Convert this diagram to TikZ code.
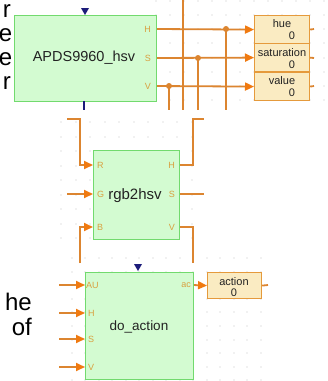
\documentclass[tikz,border=0pt]{standalone}
\usepackage{fontspec}
\setmainfont{Liberation Sans}
\usetikzlibrary{arrows.meta}
\definecolor{wire}{HTML}{DC8530}
\definecolor{arrowc}{HTML}{F07A10}
\definecolor{boxfill}{HTML}{D3FBD1}
\definecolor{boxline}{HTML}{72DA6E}
\definecolor{portc}{HTML}{D9A040}
\definecolor{dispfill}{HTML}{FAEBC2}
\definecolor{displine}{HTML}{E59A3C}
\definecolor{navyc}{HTML}{1C1C7A}
\definecolor{griddot}{HTML}{C4C4C4}
\definecolor{txt}{HTML}{222222}
\begin{document}
\begin{tikzpicture}[x=1pt,y=-1pt,
  wire/.style={draw=wire,line width=1.8pt},
  arr/.style={-{Triangle[length=9pt,width=8pt,fill=arrowc,color=arrowc]}},
  block/.style={draw=boxline,fill=boxfill,line width=1.2pt,inner sep=0pt,anchor=north west,text=txt},
  disp/.style={draw=displine,fill=dispfill,line width=1.2pt,inner sep=0pt,anchor=north west,minimum width=55pt,minimum height=28pt},
  dtxt/.style={font=\fontsize{11}{11}\selectfont,inner sep=0pt,text=txt},
  port/.style={text=portc,font=\fontsize{9}{9}\selectfont,inner sep=0pt},
  junc/.style={circle,fill=wire,inner sep=0pt,minimum size=6pt},
  big/.style={font=\fontsize{24}{24}\selectfont,inner sep=0pt,anchor=base east},
  gdot/.style={fill=griddot}
]
\useasboundingbox[fill=white] (0,0) rectangle (328,381);
% grid dots
\foreach \gx in {156,170,184,198,212,226,240,254,268,282,296,310,324}
  \foreach \gy in {1,15,29,43,58,72,86,100}
    \fill[gdot] (\gx,\gy) circle (0.6pt);
\foreach \gx in {61,76,90,105,119,134,148,163,177,192}
  \foreach \gy in {122,137,151,166,180,195,209,224,238}
    \fill[gdot] (\gx,\gy) circle (0.6pt);
\foreach \gx in {72,85,99,112,126,139,153,166,180,193,207,220,234,247,261}
  \foreach \gy in {258,272,285,299,312,326,340,353,367,380}
    \fill[gdot] (\gx,\gy) circle (0.6pt);

% slide text fragments
\node[big] (t1) at (11,17) {r};
\node[big] (t2) at (12.5,41) {e};
\node[big] (t3) at (12.5,65) {e};
\node[big] (t4) at (11,89) {r};
\node[big] (t5) at (32,310) {he};
\node[big] (t6) at (32,335) {of};

% ---------- top block ----------
\coordinate (aH) at (156,29);
\coordinate (aS) at (156,58);
\coordinate (aV) at (156,86);
\node[disp] (hue) at (254,15) {};
\node[disp] (sat) at (254,43) {};
\node[disp] (val) at (254,72) {};
\node[dtxt] (hueT) at (282,24) {hue};
\node[dtxt] (hue0) at (292,36) {0};
\node[dtxt] (satT) at (282,53) {saturation};
\node[dtxt] (sat0) at (292,65) {0};
\node[dtxt] (valT) at (282,81) {value};
\node[dtxt] (val0) at (292,93) {0};
\coordinate (hueO) at (314,29);
\coordinate (satO) at (314,58);
\coordinate (valO) at (314,86);
\draw[wire] (hue.east) -- (hueO);
\draw[wire] (sat.east) -- (satO);
\draw[wire] (val.east) -- (valO);

\coordinate (jH) at (226,29);
\coordinate (jS) at (198,58);
\coordinate (jV) at (169,86);
\coordinate (jHd) at (226,110);
\coordinate (jSd) at (198,110);
\coordinate (jVd) at (169,110);
\coordinate (xT) at (183,0);
\coordinate (xB) at (183,110);
\draw[wire] (xT) -- (xB);
\draw[wire] (jH) -- (jHd);
\draw[wire] (jS) -- (jSd);
\draw[wire] (jV) -- (jVd);
\draw[wire,arr] (aH) -- (hue.west);
\draw[wire,arr] (aS) -- (sat.west);
\draw[wire,arr] (aV) -- (val.west);
\node[junc] (dH) at (jH) {};
\node[junc] (dS) at (jS) {};
\node[junc] (dV) at (jV) {};

\node[block,minimum width=142pt,minimum height=86pt] (apds) at (14,15) {};
\node[text=txt,font=\fontsize{14.5}{14.5}\selectfont,inner sep=0pt] (apdsT) at (84,58) {APDS9960\_hsv};
\node[port,anchor=east] (apH) at (151,29) {H};
\node[port,anchor=east] (apS) at (151,58) {S};
\node[port,anchor=east] (apV) at (151,86) {V};
\fill[navyc] (81,8) -- (89,8) -- (85,15) -- cycle;
\coordinate (apB) at (84,101);
\coordinate (apBe) at (84,110);
\draw[navyc,line width=1.2pt] (apB) -- (apBe);

% ---------- middle block ----------
\coordinate (rIn1) at (67,119);
\coordinate (rIn2) at (80,119);
\coordinate (rIn3) at (80,165);
\coordinate (rP) at (93,165);
\coordinate (gIn) at (67,194);
\coordinate (gP) at (93,194);
\coordinate (bIn1) at (80,263);
\coordinate (bIn2) at (80,227);
\coordinate (bP) at (93,227);
\draw[wire,arr] (rIn1) -- (rIn2) -- (rIn3) -- (rP);
\draw[wire,arr] (gIn) -- (gP);
\draw[wire,arr] (bIn1) -- (bIn2) -- (bP);
\coordinate (hO) at (179,165);
\coordinate (hO1) at (193,165);
\coordinate (hO2) at (193,119);
\coordinate (hO3) at (204,119);
\coordinate (sO) at (179,194);
\coordinate (sO1) at (204,194);
\coordinate (vO) at (179,227);
\coordinate (vO1) at (193,227);
\coordinate (vO2) at (193,263);
\draw[wire] (hO) -- (hO1) -- (hO2) -- (hO3);
\draw[wire] (sO) -- (sO1);
\draw[wire] (vO) -- (vO1) -- (vO2);
\node[block,minimum width=86pt,minimum height=89pt] (rgb) at (93,150) {};
\node[text=txt,font=\fontsize{15}{15}\selectfont,inner sep=0pt] (rgbT) at (135,196) {rgb2hsv};
\node[port,anchor=west] (rgR) at (97,165) {R};
\node[port,anchor=west] (rgG) at (97,194) {G};
\node[port,anchor=west] (rgB) at (97,227) {B};
\node[port,anchor=east] (rgH) at (175,165) {H};
\node[port,anchor=east] (rgS) at (175,194) {S};
\node[port,anchor=east] (rgV) at (175,227) {V};

% ---------- bottom block ----------
\coordinate (iAU) at (59,285);
\coordinate (iH) at (59,313);
\coordinate (iS) at (59,339);
\coordinate (iV) at (59,367);
\coordinate (pAU) at (85,285);
\coordinate (pH) at (85,313);
\coordinate (pS) at (85,339);
\coordinate (pV) at (85,367);
\draw[wire,arr] (iAU) -- (pAU);
\draw[wire,arr] (iH) -- (pH);
\draw[wire,arr] (iS) -- (pS);
\draw[wire,arr] (iV) -- (pV);
\node[disp,minimum width=54pt,minimum height=26pt] (act) at (207,272) {};
\node[dtxt] (actT) at (234,282) {action};
\node[dtxt] (act0) at (234,293) {0};
\coordinate (actO) at (268,285);
\draw[wire] (act.east) -- (actO);
\coordinate (pac) at (193,285);
\draw[wire,arr] (pac) -- (act.west);
\node[block,minimum width=108pt,minimum height=107pt] (doa) at (85,272) {};
\node[text=txt,font=\fontsize{13.5}{13.5}\selectfont,inner sep=0pt] (doaT) at (139,327) {do\_action};
\node[port,anchor=west] (dAU) at (86,285) {AU};
\node[port,anchor=west] (dH) at (88,313) {H};
\node[port,anchor=west] (dS) at (88,339) {S};
\node[port,anchor=west] (dV) at (88,367) {V};
\node[port,anchor=east] (dac) at (191,285) {ac};
\fill[navyc] (134,264) -- (142,264) -- (138,271) -- cycle;
\end{tikzpicture}
\end{document}
